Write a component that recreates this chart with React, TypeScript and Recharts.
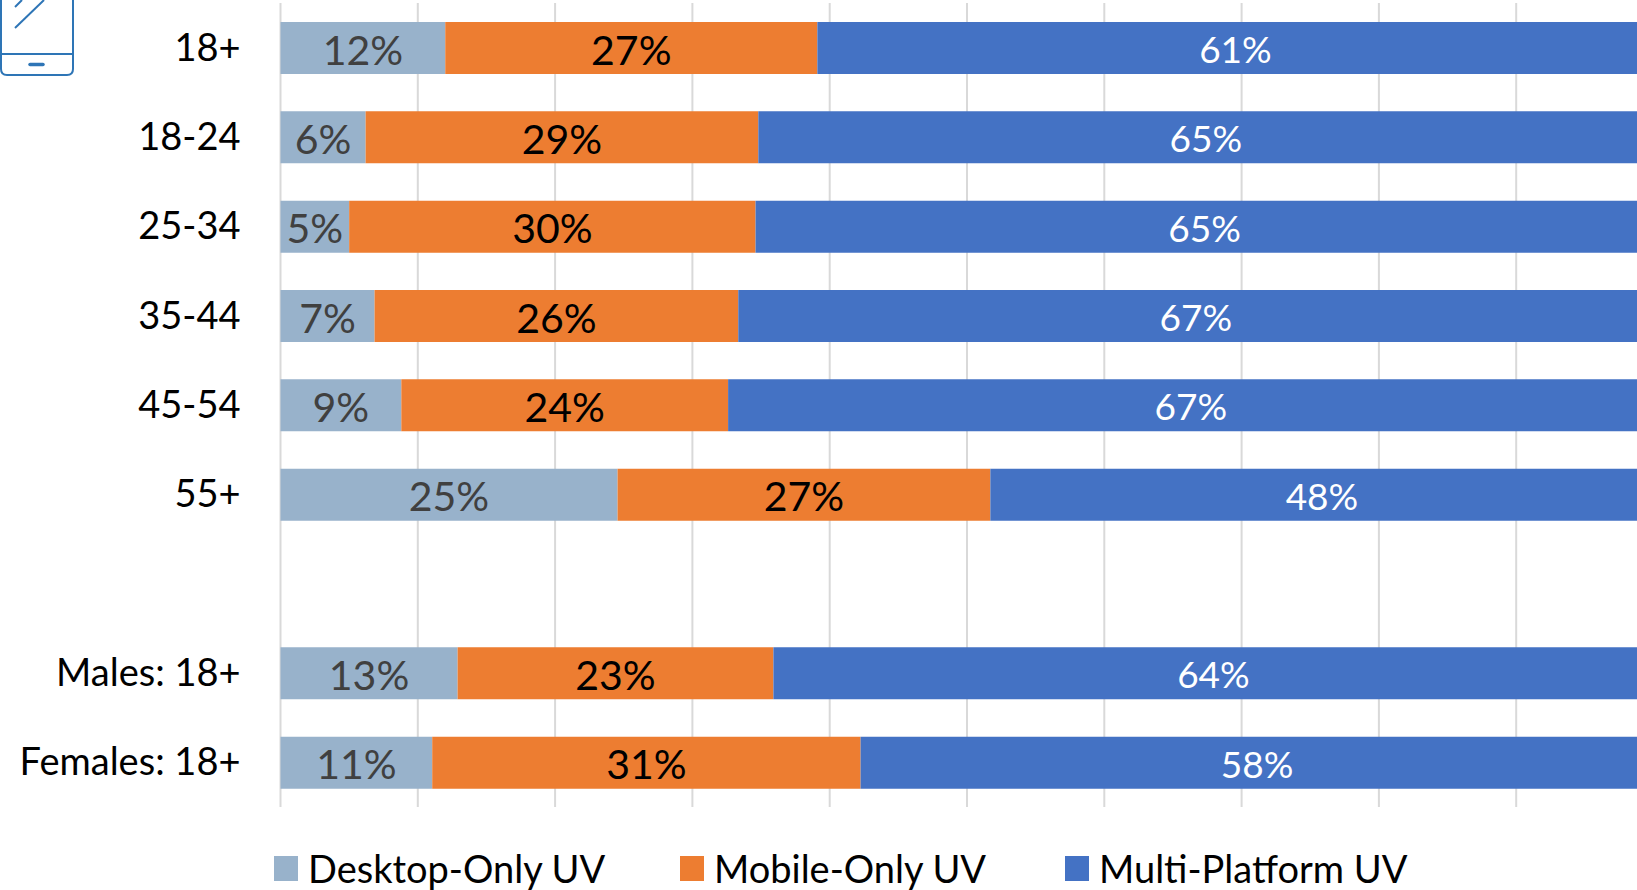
import React from "react";
import { BarChart, Bar, XAxis, YAxis, CartesianGrid, LabelList, Legend } from "recharts";

const categories = ["18+", "18-24", "25-34", "35-44", "45-54", "55+", " ", "Males: 18+", "Females: 18+"];
const desktopOnly = [12.0, 6.2, 5.0, 6.85, 8.8, 24.55, null, 12.9, 11.05];
const mobileOnly = [27.1, 28.6, 29.6, 26.49, 23.8, 27.15, null, 23.0, 31.2];
const multiPlatform = [60.9, 65.2, 65.4, 66.66, 67.4, 48.3, null, 64.1, 57.75];
const xTicks = [0, 10, 20, 30, 40, 50, 60, 70, 80, 90, 100];

const data = categories.map((name, i) => ({
  name,
  desktop: desktopOnly[i],
  mobile: mobileOnly[i],
  multi: multiPlatform[i],
}));

const FONT = "Lato, 'Open Sans', sans-serif";
const fmt = (v: any) => (v == null ? "" : `${Math.round(Number(v))}%`);

const legendPos: Record<string, number> = { "Desktop-Only UV": 274, "Mobile-Only UV": 680, "Multi-Platform UV": 1065 };

const LegendContent = ({ payload }: any) => (
  <div style={{ position: "relative", width: 1637, height: 33 }}>
    {(payload || []).map((p: any) => (
      <div key={p.value} style={{ position: "absolute", left: legendPos[p.value], top: 0, display: "flex", alignItems: "center", height: 33 }}>
        <span style={{ display: "inline-block", width: 24, height: 25, background: p.color, marginRight: 10 }} />
        <span style={{ fontFamily: FONT, fontSize: 38, color: "#000", whiteSpace: "nowrap", position: "relative", top: -1 }}>{p.value}</span>
      </div>
    ))}
  </div>
);

const CatTick = ({ x, y, payload }: any) => (
  <text x={x} y={y} dy={13} textAnchor="end" fontFamily={FONT} fontSize={38} fill="#000">{payload.value}</text>
);

const PctLabel = (fill: string, size: number) => ({ x, y, width, height, value }: any) =>
  value == null ? null : (
    <text x={x + width / 2} y={y + height / 2} dy={size * 0.38 + 1} textAnchor="middle" fontFamily={FONT} fontSize={size} fill={fill}>{fmt(value)}</text>
  );

export default function App() {
  return (
    <div style={{ position: "absolute", left: 0, top: 0, width: 1637, height: 890, overflow: "hidden", background: "#fff" }}>
      <svg width={80} height={80} style={{ position: "absolute", left: 0, top: 0 }}>
        <g fill="none" stroke="#2e75b6" strokeWidth={2}>
          <path d="M1 -5 V69 Q1 75 7 75 H67 Q73 75 73 69 V-5" />
          <path d="M1 54 H73" />
          <path d="M15 28 L44 0" />
          <path d="M15 7 L22 0" />
          <path d="M30 64.5 H43" strokeWidth={3.5} strokeLinecap="round" />
        </g>
      </svg>
      <BarChart
        width={1700}
        height={890}
        data={data}
        layout="vertical"
        barSize={52}
        margin={{ top: 3, right: 46.5, bottom: 50, left: 0.5 }}
      >
        <CartesianGrid horizontal={false} vertical stroke="#d9d9d9" strokeWidth={2} />
        <XAxis type="number" domain={[0, 100]} ticks={xTicks} hide />
        <YAxis
          type="category"
          dataKey="name"
          width={280}
          axisLine={false}
          tickLine={false}
          tickSize={0}
          tickMargin={40}
          interval={0}
          tick={<CatTick />}
        />
        <Legend
          content={<LegendContent />}
          wrapperStyle={{ left: 0, top: 852, width: 1637, height: 33 }}
        />
        <Bar dataKey="desktop" name="Desktop-Only UV" stackId="a" fill="#98b2cb" isAnimationActive={false}>
          <LabelList dataKey="desktop" content={PctLabel("#404040", 41)} />
        </Bar>
        <Bar dataKey="mobile" name="Mobile-Only UV" stackId="a" fill="#ed7d31" isAnimationActive={false}>
          <LabelList dataKey="mobile" content={PctLabel("#000", 41)} />
        </Bar>
        <Bar dataKey="multi" name="Multi-Platform UV" stackId="a" fill="#4472c4" isAnimationActive={false}>
          <LabelList dataKey="multi" content={PctLabel("#fff", 37)} />
        </Bar>
      </BarChart>
    </div>
  );
}
